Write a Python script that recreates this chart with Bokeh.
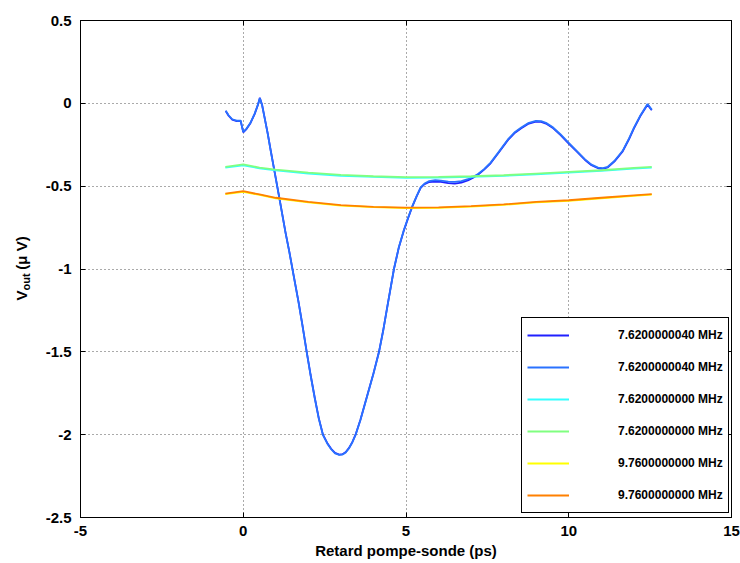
import math
from bokeh.plotting import figure
from bokeh.models import Legend, LegendItem, LinearAxis, Label, FixedTicker, Range1d
from bokeh.embed import file_html
from bokeh.resources import INLINE

# ---------------- data ----------------
x_ticks = [-5, 0, 5, 10, 15]
x_tick_labels = ["-5", "0", "5", "10", "15"]
y_ticks = [-2.5, -2, -1.5, -1, -0.5, 0, 0.5]
y_tick_labels = ["-2.5", "-2", "-1.5", "-1", "-0.5", "0", "0.5"]

series_labels = ["7.6200000040 MHz", "7.6200000040 MHz", "7.6200000000 MHz",
                 "7.6200000000 MHz", "9.7600000000 MHz", "9.7600000000 MHz"]
series_colors = ["#2020ff", "#2a72ff", "#33ffff", "#80ff80", "#ffff00", "#ff8000"]

blue_x = [-0.54, -0.45, -0.34, -0.2, -0.08, 0.0, 0.1, 0.22, 0.35, 0.45, 0.51, 0.58,
          0.65, 0.75, 0.84, 0.97, 1.1, 1.2, 1.3, 1.42, 1.55, 1.7, 1.82, 1.95, 2.07,
          2.2, 2.32, 2.45, 2.58, 2.7, 2.82, 2.95, 3.05, 3.15, 3.25, 3.35, 3.45, 3.6,
          3.8, 4.0, 4.17, 4.3, 4.45, 4.63, 4.78, 4.93, 5.07, 5.2, 5.33, 5.45, 5.57,
          5.7, 5.9, 6.07, 6.3, 6.5, 6.7, 6.9, 7.05, 7.2, 7.4, 7.6, 7.85, 8.13, 8.35,
          8.53, 8.75, 8.99, 9.15, 9.3, 9.5, 9.75, 9.97, 10.25, 10.5, 10.7, 10.9,
          11.05, 11.2, 11.4, 11.65, 11.85, 12.0, 12.2, 12.42, 12.55]
blue1_y = [-0.046, -0.075, -0.098, -0.108, -0.106, -0.175, -0.155, -0.12, -0.065,
           -0.01, 0.034, -0.01, -0.08, -0.18, -0.28, -0.42, -0.56, -0.67, -0.78,
           -0.9, -1.04, -1.2, -1.34, -1.5, -1.64, -1.78, -1.9, -2.0, -2.05, -2.085,
           -2.11, -2.12, -2.118, -2.105, -2.08, -2.045, -2.0, -1.91, -1.77, -1.63,
           -1.5, -1.37, -1.2, -1.0, -0.87, -0.77, -0.69, -0.62, -0.56, -0.51, -0.488,
           -0.476, -0.472, -0.474, -0.482, -0.485, -0.478, -0.465, -0.45, -0.433,
           -0.40, -0.362, -0.297, -0.222, -0.177, -0.152, -0.124, -0.11, -0.112,
           -0.122, -0.147, -0.192, -0.237, -0.292, -0.342, -0.374, -0.392, -0.395,
           -0.387, -0.352, -0.292, -0.217, -0.152, -0.077, -0.008, -0.042]
blue2_y = [-0.044, -0.072, -0.096, -0.105, -0.104, -0.172, -0.152, -0.118, -0.062,
           -0.008, 0.03, -0.012, -0.082, -0.182, -0.283, -0.423, -0.563, -0.673,
           -0.783, -0.903, -1.043, -1.203, -1.343, -1.503, -1.643, -1.783, -1.903,
           -2.003, -2.053, -2.088, -2.113, -2.122, -2.12, -2.107, -2.082, -2.047,
           -2.002, -1.912, -1.772, -1.632, -1.502, -1.372, -1.202, -1.0, -0.868,
           -0.768, -0.688, -0.618, -0.558, -0.508, -0.484, -0.47, -0.464, -0.466,
           -0.472, -0.474, -0.47, -0.458, -0.445, -0.428, -0.397, -0.358, -0.293,
           -0.218, -0.173, -0.148, -0.12, -0.106, -0.108, -0.118, -0.143, -0.188,
           -0.233, -0.288, -0.338, -0.37, -0.388, -0.391, -0.383, -0.348, -0.288,
           -0.213, -0.148, -0.073, -0.004, -0.038]

flat_x = [-0.55, 0.0, 0.5, 1.0, 2.0, 3.0, 4.0, 5.0, 6.0, 7.0, 8.0, 9.0, 10.0, 11.0, 12.0, 12.55]
cyan_y = [-0.388, -0.375, -0.392, -0.405, -0.424, -0.438, -0.444, -0.45, -0.448,
          -0.444, -0.438, -0.428, -0.418, -0.408, -0.394, -0.388]
green_y = [-0.383, -0.368, -0.388, -0.40, -0.418, -0.432, -0.44, -0.445, -0.444,
           -0.44, -0.434, -0.424, -0.414, -0.404, -0.39, -0.384]
yellow_y = [-0.548, -0.535, -0.553, -0.574, -0.598, -0.617, -0.627, -0.633, -0.631,
            -0.623, -0.613, -0.598, -0.588, -0.573, -0.558, -0.551]
orange_y = [-0.545, -0.53, -0.55, -0.57, -0.595, -0.615, -0.625, -0.63, -0.628,
            -0.62, -0.61, -0.595, -0.585, -0.57, -0.555, -0.548]

series_x = [blue_x, blue_x, flat_x, flat_x, flat_x, flat_x]
series_y = [blue1_y, blue2_y, cyan_y, green_y, yellow_y, orange_y]

y_label_main = "V\u00a0\u00a0\u00a0\u00a0\u00a0(μ V)"
y_label_sub = "out"

FONT = "Liberation Sans"

# ---------------- figure ----------------
p = figure(frame_width=651, frame_height=497,
           x_range=Range1d(-5, 15), y_range=Range1d(-2.5, 0.5),
           output_backend="svg", toolbar_location=None,
           min_border_left=80, min_border_right=9, min_border_top=20, min_border_bottom=46)
p.background_fill_color = "white"
p.border_fill_color = "white"
p.outline_line_color = "black"
p.outline_line_width = 1
p.outline_line_alpha = 1

for ax, ticks, labels in ((p.xaxis[0], x_ticks, x_tick_labels), (p.yaxis[0], y_ticks, y_tick_labels)):
    ax.ticker = FixedTicker(ticks=ticks, minor_ticks=[])
    ax.major_label_overrides = {t: l for t, l in zip(ticks, labels)}
    ax.major_tick_in = 5
    ax.major_tick_out = 0
    ax.minor_tick_line_color = None
    ax.axis_line_color = "black"
    ax.major_tick_line_color = "black"
    ax.major_label_text_font = FONT
    ax.major_label_text_font_style = "bold"
    ax.major_label_text_font_size = "15px"
    ax.major_label_text_color = "black"
p.yaxis[0].major_label_standoff = 9
p.xaxis[0].major_label_standoff = 8

p.xaxis[0].axis_label = "Retard pompe-sonde (ps)"
p.xaxis[0].axis_label_text_font = FONT
p.xaxis[0].axis_label_text_font_style = "bold"
p.xaxis[0].axis_label_text_font_size = "15px"
p.xaxis[0].axis_label_text_color = "black"
p.xaxis[0].axis_label_standoff = 3

for loc, ticks in (("above", x_ticks), ("right", y_ticks)):
    ax = LinearAxis(ticker=FixedTicker(ticks=ticks, minor_ticks=[]),
                    major_tick_in=5, major_tick_out=0,
                    major_label_text_color=None, major_label_standoff=0,
                    minor_tick_line_color=None, axis_line_color="black",
                    major_tick_line_color="black")
    p.add_layout(ax, loc)

for g in (p.xgrid[0], p.ygrid[0]):
    g.grid_line_color = "#555555"
    g.grid_line_dash = "1 3"
    g.grid_line_width = 1
p.xgrid[0].ticker = FixedTicker(ticks=x_ticks)
p.ygrid[0].ticker = FixedTicker(ticks=y_ticks)

renderers = []
for xs, ys, c in zip(series_x, series_y, series_colors):
    r = p.line(xs, ys, line_color=c, line_width=1.8)
    renderers.append(r)

items = [LegendItem(label=l, renderers=[r]) for l, r in zip(series_labels, renderers)]
legend = Legend(items=items, location=(441, 4), padding=5, spacing=8,
                label_height=24, glyph_height=24, glyph_width=42, label_standoff=49,
                label_text_font=FONT, label_text_font_style="bold",
                label_text_font_size="12px", label_text_color="black",
                border_line_color="black", border_line_width=1, border_line_alpha=1,
                background_fill_color="white", background_fill_alpha=1, margin=0)
p.add_layout(legend)

# y axis label with subscript: text annotations placed in the left side panel
ylab_font = dict(text_font=FONT, text_font_style="bold", text_color="black",
                 angle=math.pi / 2, x_units="screen", y_units="screen",
                 text_baseline="alphabetic", text_align="left")
p.add_layout(Label(x=-4, y=217, text=y_label_main, text_font_size="15px", **ylab_font), "left")
p.add_layout(Label(x=12, y=227, text=y_label_sub, text_font_size="11px", **ylab_font), "left")

open("out.html", "w").write(file_html(p, INLINE))
